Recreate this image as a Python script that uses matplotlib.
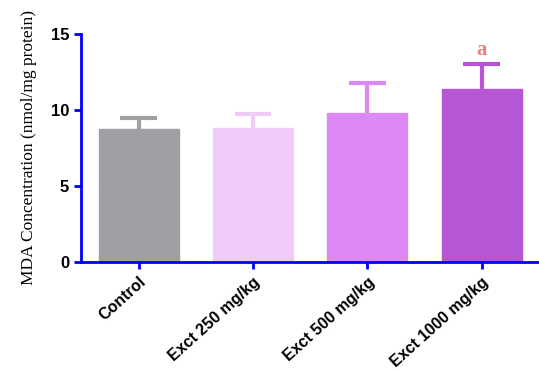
import matplotlib
matplotlib.use("Agg")
import matplotlib.pyplot as plt

# MDA levels per group (mean and upper SEM)
groups = ["Control", "Exct 250 mg/kg", "Exct 500 mg/kg", "Exct 1000 mg/kg"]
mda_mean = [8.75, 8.8, 9.82, 11.38]
mda_err = [0.75, 0.9, 1.93, 1.62]
bar_colors = ["#a09fa4", "#eeccf7", "#dc88f5", "#b656d4"]
sig_marks = ["", "", "", "a"]

fig = plt.figure(figsize=(5.39, 3.73), dpi=100)
ax = fig.add_axes([0.150, 0.298, 0.85, 0.611])

x = list(range(len(groups)))
ax.bar(x, mda_mean, width=0.70, color=bar_colors, edgecolor=bar_colors, zorder=2)

# upper-only error bars, same colour as the bar
cap = 0.16
for i, (m, e, c) in enumerate(zip(mda_mean, mda_err, bar_colors)):
    ax.vlines(i, m, m + e, color=c, linewidth=3, zorder=1)
    ax.hlines(m + e, i - cap, i + cap, color=c, linewidth=3, zorder=1)
    if sig_marks[i]:
        ax.text(i, m + e + 0.3, sig_marks[i], ha="center", va="bottom",
                color="#f08080", fontsize=15, fontweight="bold",
                family="Liberation Serif")

ax.set_xlim(-0.505, 3.5)
ax.set_ylim(0, 15)
ax.set_yticks([0, 5, 10, 15])
ax.set_xticks(x)
ax.set_xticklabels(groups, rotation=42, ha="right", rotation_mode="anchor",
                   fontsize=11.5, fontweight="bold", family="Liberation Sans")
for lbl in ax.get_yticklabels():
    lbl.set_fontsize(12)
    lbl.set_fontweight("bold")
    lbl.set_family("Liberation Sans")

for side in ("top", "right"):
    ax.spines[side].set_visible(False)
for side in ("left", "bottom"):
    ax.spines[side].set_color("#0000ff")
    ax.spines[side].set_linewidth(2)
ax.tick_params(axis="both", colors="#0000ff", width=2, length=5, labelcolor="black")
ax.tick_params(axis="x", pad=4)

ax.set_ylabel("MDA Concentration (nmol/mg protein)", family="Liberation Serif",
              fontsize=12.5, labelpad=10)

fig.savefig("out.png", dpi=100)
